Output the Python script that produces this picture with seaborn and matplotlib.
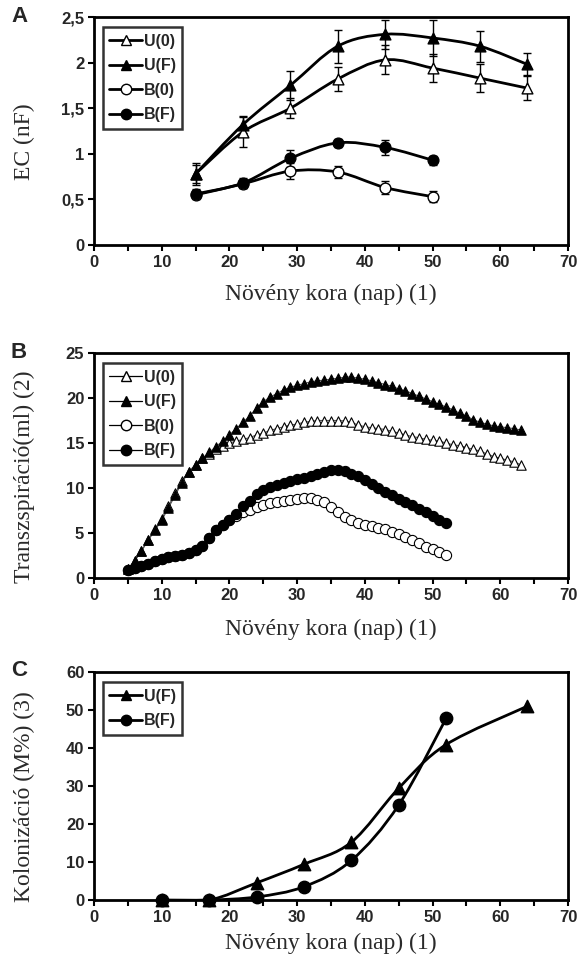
import numpy as np
import pandas as pd
import matplotlib
matplotlib.use("Agg")
import matplotlib.pyplot as plt
from matplotlib.path import Path
from matplotlib.patches import PathPatch
from matplotlib.lines import Line2D
from matplotlib.ticker import FuncFormatter, MultipleLocator
import seaborn as sns

# ---------------- data ----------------
# Panel A: electrical capacitance (nF)
days_a_u = [15, 22, 29, 36, 43, 50, 57, 64]
ec_u0 = [0.78, 1.24, 1.50, 1.82, 2.03, 1.94, 1.83, 1.72]
ec_u0_err = [0.10, 0.16, 0.11, 0.13, 0.16, 0.15, 0.15, 0.13]
ec_uf = [0.78, 1.32, 1.75, 2.18, 2.31, 2.27, 2.18, 1.98]
ec_uf_err = [0.12, 0.09, 0.16, 0.18, 0.16, 0.20, 0.17, 0.12]
days_a_b = [15, 22, 29, 36, 43, 50]
ec_b0 = [0.55, 0.67, 0.81, 0.80, 0.63, 0.53]
ec_b0_err = [0.05, 0.04, 0.09, 0.07, 0.07, 0.06]
ec_bf = [0.56, 0.68, 0.95, 1.12, 1.07, 0.93]
ec_bf_err = [0.05, 0.05, 0.09, 0.04, 0.08, 0.05]

# Panel B: daily transpiration (ml)
days_b_u = list(range(5, 64))
tr_u0 = [1.0, 1.9, 3.0, 4.2, 5.4, 6.6, 8.0, 9.4, 10.8, 11.8,
         12.6, 13.3, 13.8, 14.3, 14.7, 15.0, 15.2, 15.4, 15.6, 15.9,
         16.1, 16.4, 16.6, 16.8, 17.0, 17.1, 17.3, 17.4, 17.5, 17.5,
         17.5, 17.5, 17.45, 17.3, 17.0, 16.8, 16.7, 16.6, 16.5, 16.3,
         16.1, 15.9, 15.7, 15.6, 15.4, 15.3, 15.2, 15.0, 14.8, 14.7,
         14.5, 14.3, 14.1, 13.8, 13.5, 13.3, 13.1, 12.9, 12.6]
tr_uf = [1.0, 1.9, 3.0, 4.2, 5.3, 6.4, 7.8, 9.2, 10.6, 11.8,
         12.6, 13.3, 13.95, 14.6, 15.2, 15.9, 16.6, 17.3, 18.0, 18.9,
         19.6, 20.1, 20.5, 20.9, 21.2, 21.4, 21.6, 21.8, 21.9, 22.0,
         22.1, 22.2, 22.3, 22.35, 22.2, 22.1, 21.9, 21.7, 21.5, 21.3,
         21.0, 20.8, 20.5, 20.2, 19.9, 19.6, 19.3, 19.0, 18.7, 18.3,
         18.0, 17.6, 17.3, 17.1, 16.9, 16.8, 16.7, 16.6, 16.45]
days_b_b = list(range(5, 53))
tr_b0 = [0.85, 1.1, 1.35, 1.6, 1.9, 2.15, 2.35, 2.45, 2.6, 2.8,
         3.1, 3.6, 4.5, 5.3, 5.9, 6.5, 6.9, 7.3, 7.6, 7.9,
         8.1, 8.3, 8.45, 8.6, 8.7, 8.8, 8.85, 8.85, 8.7, 8.4,
         7.9, 7.35, 6.8, 6.4, 6.1, 5.9, 5.75, 5.6, 5.4, 5.15,
         4.9, 4.55, 4.2, 3.9, 3.5, 3.2, 2.9, 2.6]
tr_bf = [0.85, 1.1, 1.35, 1.6, 1.9, 2.15, 2.35, 2.45, 2.6, 2.8,
         3.1, 3.6, 4.5, 5.3, 5.9, 6.5, 7.1, 8.0, 8.6, 9.3,
         9.8, 10.1, 10.35, 10.55, 10.75, 10.95, 11.15, 11.35, 11.55, 11.75,
         11.95, 12.0, 11.9, 11.6, 11.3, 10.9, 10.4, 10.0, 9.6, 9.2,
         8.8, 8.5, 8.1, 7.7, 7.3, 6.9, 6.5, 6.1]

# Panel C: root colonization (M%)
days_c_u = [10, 17, 24, 31, 38, 45, 52, 64]
col_uf = [0.0, 0.0, 4.5, 9.4, 15.2, 29.4, 40.9, 51.0]
days_c_b = [10, 17, 24, 31, 38, 45, 52]
col_bf = [0.0, 0.0, 0.8, 3.5, 10.4, 25.0, 47.8]

x_label = "Növény kora (nap) (1)"
y_labels = ["EC (nF)", "Transzspiráció(ml) (2)", "Kolonizáció (M%) (3)"]
panel_tags = ["A", "B", "C"]
series_names = ["U(0)", "U(F)", "B(0)", "B(F)"]

# ---------------- style ----------------
sns.set_theme(style="ticks")
plt.rcParams["font.family"] = ["Liberation Sans", "DejaVu Sans"]
plt.rcParams["axes.linewidth"] = 2.0

SERIF = ["Liberation Serif", "DejaVu Serif"]
W, H = 584, 958
fig = plt.figure(figsize=(W / 100, H / 100), dpi=100)
fig.patch.set_facecolor("white")

series_style = {"U(0)": ("^", "white"), "U(F)": ("^", "black"),
                "B(0)": ("o", "white"), "B(F)": ("o", "black")}


def axes_px(left, top, right, bottom):
    return fig.add_axes([left / W, 1 - bottom / H, (right - left) / W, (bottom - top) / H])


def smooth_path(x, y):
    """Cubic Bezier path through the points (Catmull-Rom tangents)."""
    pts = np.column_stack([x, y]).astype(float)
    n = len(pts)
    verts = [pts[0]]
    codes = [Path.MOVETO]
    for i in range(n - 1):
        p0 = pts[i - 1] if i > 0 else pts[i]
        p1 = pts[i]
        p2 = pts[i + 1]
        p3 = pts[i + 2] if i + 2 < n else pts[i + 1]
        verts += [p1 + (p2 - p0) / 6, p2 - (p3 - p1) / 6, p2]
        codes += [Path.CURVE4] * 3
    return Path(verts, codes)


def draw_smooth(ax, x, y, lw=2.0):
    ax.add_patch(PathPatch(smooth_path(x, y), fill=False, lw=lw, ec="black",
                           transform=ax.transData, zorder=2, capstyle="round",
                           joinstyle="round"))


def comma_fmt(v, pos):
    return f"{v:g}".replace(".", ",")


def style_axes(ax, ymax, ystep, ylabel, tag, xlab_y, ylab_y):
    ax.set_xlim(0, 70)
    ax.set_ylim(0, ymax)
    ax.xaxis.set_major_locator(MultipleLocator(10))
    ax.xaxis.set_minor_locator(MultipleLocator(5))
    ax.yaxis.set_major_locator(MultipleLocator(ystep))
    ax.yaxis.set_major_formatter(FuncFormatter(comma_fmt))
    ax.tick_params(axis="both", which="major", direction="out", length=4,
                   width=1.5, labelsize=12, pad=3, color="black")
    ax.tick_params(axis="x", which="minor", direction="out", length=4,
                   width=1.5, color="black")
    for lab in ax.get_xticklabels() + ax.get_yticklabels():
        lab.set_fontweight("bold")
    for sp in ax.spines.values():
        sp.set_visible(True)
        sp.set_color("black")
        sp.set_linewidth(2.0)
    ax.set_xlabel(x_label, family=SERIF, fontsize=17, color="#2a2a2a")
    ax.set_ylabel(ylabel, family=SERIF, fontsize=17, color="#2a2a2a")
    ax.xaxis.set_label_coords(0.5, xlab_y)
    ax.yaxis.set_label_coords(-0.125, ylab_y)
    ax.set_facecolor("white")
    ax.grid(False)
    bb = ax.get_position()
    fig.text(11 / W, bb.y1 + 1 / H, tag, fontsize=16, fontweight="bold",
             ha="left", va="center")


def add_legend(ax, names, lw, filled_only=False):
    handles = [Line2D([], [], color="black", lw=lw, marker=series_style[n][0], ms=7.5,
                      mfc="black" if filled_only else series_style[n][1],
                      mec="black", mew=1.0) for n in names]
    leg = ax.legend(handles, names, loc="upper left",
                    bbox_to_anchor=(0.018, 0.955), borderaxespad=0,
                    frameon=True, fancybox=False, edgecolor="black",
                    handlelength=2.1, handletextpad=0.1, labelspacing=0.6,
                    borderpad=0.4, prop={"weight": "bold", "size": 11.5})
    leg.get_frame().set_linewidth(1.8)
    return leg


# ---------------- panel A ----------------
axA = axes_px(94, 17, 568, 245)
for xs, ys, es in [(days_a_u, ec_u0, ec_u0_err), (days_a_u, ec_uf, ec_uf_err),
                   (days_a_b, ec_b0, ec_b0_err), (days_a_b, ec_bf, ec_bf_err)]:
    axA.errorbar(xs, ys, yerr=es, fmt="none", ecolor="black", elinewidth=1.0,
                 capsize=3, capthick=1.0, zorder=1)
    draw_smooth(axA, xs, ys, lw=2.0)

dfA = pd.concat([
    pd.DataFrame({"nap": days_a_u, "EC": ec_u0, "csoport": "U(0)"}),
    pd.DataFrame({"nap": days_a_u, "EC": ec_uf, "csoport": "U(F)"}),
    pd.DataFrame({"nap": days_a_b, "EC": ec_b0, "csoport": "B(0)"}),
    pd.DataFrame({"nap": days_a_b, "EC": ec_bf, "csoport": "B(F)"}),
])
for name, (mk, fc) in series_style.items():
    sub = dfA[dfA["csoport"] == name]
    sns.scatterplot(data=sub, x="nap", y="EC", ax=axA, marker=mk, s=60,
                    color=fc, edgecolor="black", linewidth=1.0, zorder=3,
                    legend=False)
style_axes(axA, 2.5, 0.5, y_labels[0], panel_tags[0], -0.17, 0.455)
add_legend(axA, series_names, 2.0)

# ---------------- panel B ----------------
axB = axes_px(94, 353, 568, 578)
dfB = pd.concat([
    pd.DataFrame({"nap": days_b_u, "ml": tr_u0, "csoport": "U(0)"}),
    pd.DataFrame({"nap": days_b_u, "ml": tr_uf, "csoport": "U(F)"}),
    pd.DataFrame({"nap": days_b_b, "ml": tr_b0, "csoport": "B(0)"}),
    pd.DataFrame({"nap": days_b_b, "ml": tr_bf, "csoport": "B(F)"}),
])
for name, (mk, fc) in series_style.items():
    sub = dfB[dfB["csoport"] == name]
    sns.lineplot(data=sub, x="nap", y="ml", ax=axB, color="#555555", lw=0.8,
                 zorder=2, legend=False)
    sns.scatterplot(data=sub, x="nap", y="ml", ax=axB, marker=mk,
                    s=46 if mk == "^" else 54,
                    color=fc, edgecolor="black", linewidth=0.8, zorder=3,
                    legend=False)
style_axes(axB, 25, 5, y_labels[1], panel_tags[1], -0.18, 0.45)
add_legend(axB, series_names, 0.9)

# ---------------- panel C ----------------
axC = axes_px(94, 672, 568, 900)
draw_smooth(axC, days_c_u, col_uf, lw=2.0)
draw_smooth(axC, days_c_b, col_bf, lw=2.0)
dfC = pd.concat([
    pd.DataFrame({"nap": days_c_u, "M": col_uf, "csoport": "U(F)"}),
    pd.DataFrame({"nap": days_c_b, "M": col_bf, "csoport": "B(F)"}),
])
for name in ["U(F)", "B(F)"]:
    mk = series_style[name][0]
    sub = dfC[dfC["csoport"] == name]
    sns.scatterplot(data=sub, x="nap", y="M", ax=axC, marker=mk, s=80,
                    color="black", edgecolor="black", linewidth=1.0, zorder=3,
                    legend=False, clip_on=False)
style_axes(axC, 60, 10, y_labels[2], panel_tags[2], -0.145, 0.455)
add_legend(axC, ["U(F)", "B(F)"], 2.0, filled_only=True)

fig.savefig("out.png", dpi=100, facecolor="white")
